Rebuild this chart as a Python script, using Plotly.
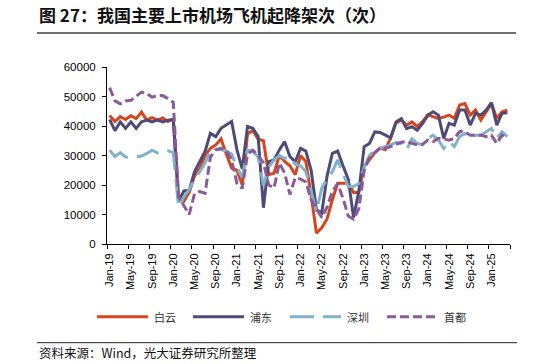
import plotly.graph_objects as go

# ---------------- data ----------------
months = []
mnames = ["Jan", "Feb", "Mar", "Apr", "May", "Jun", "Jul", "Aug", "Sep", "Oct", "Nov", "Dec"]
for yy in range(19, 26):
    for m in mnames:
        months.append(f"{m}-{yy}")
months = months[:76]  # Jan-19 .. Apr-25

baiyun = [43600, 41500, 43200, 42200, 43500, 42500, 44700, 42000, 42800, 42000, 42700, 41500,
          42300, 15500, 14500, 17500, 23000, 25700, 30000, 32400, 33600, 35600, 30500, 25700,
          25000, 20000, 37300, 38500, 35500, 35000, 23500, 24000, 30000, 28000, 26500, 23500,
          30000, 28000, 16500, 3700, 5500, 8500, 15000, 20600, 20600, 20600, 17500, 17500,
          26500, 28500, 31000, 32500, 32000, 36000, 41000, 42000, 40300, 41400, 39800, 41500,
          43700, 43100, 42600, 43000, 43700, 42600, 47100, 47600, 43700, 45400, 42000, 44800,
          47600, 42600, 44800, 45400]

pudong = [42200, 38400, 41400, 39200, 41400, 39200, 41400, 42000, 41400, 42000, 41400, 42000,
          42200, 14500, 18000, 18200, 24500, 28000, 31500, 37500, 36400, 39200, 40300, 41500,
          32000, 25500, 39800, 39200, 36500, 12300, 27900, 28500, 31900, 34700, 29600, 27900,
          32400, 31500, 25000, 11600, 10500, 23000, 30700, 31500, 26500, 22000, 9000, 18000,
          33000, 34100, 38000, 37800, 36900, 36000, 41400, 42500, 39100, 39800, 38600, 40800,
          43700, 44800, 43700, 35800, 40900, 40300, 45400, 45400, 40300, 44300, 43700, 45400,
          47900, 40300, 44300, 44500]

shenzhen = [31800, 29700, 31000, 29500, 29300, 29500, 29800, 30700, 31800, 30900, 31600, 31600,
            31000, 12500, 16000, 18500, 22000, 24500, 27500, 31500, 32000, 32000, 31500, 30500,
            26000, 22500, 31900, 31300, 29600, 19800, 26000, 28500, 30000, 29000, 29600, 27000,
            26500, 24500, 17500, 11000, 19000, 22000, 24500, 28500, 24000, 19500, 19500, 20500,
            26000, 30000, 32000, 32500, 33000, 33500, 34500, 34100, 31900, 35600, 34100, 33600,
            35800, 36900, 35200, 32400, 34700, 33000, 36400, 37500, 35800, 36900, 36900, 38100,
            39200, 35800, 38100, 36400]

shoudu = [53000, 48500, 47500, 48500, 48700, 50000, 51500, 51000, 49800, 50300, 50300, 49300,
          48000, 16000, 13000, 10000, 17000, 17800, 17200, 29500, 31900, 32400, 31800, 28500,
          20600, 18800, 30500, 31800, 30000, 27500, 20000, 19000, 27500, 24000, 16800, 22500,
          22000, 21000, 15000, 12000, 9000, 12500, 17800, 20500, 15500, 9500, 8400, 12000,
          25000, 29300, 31000, 32500, 32500, 33000, 33800, 34500, 34700, 34100, 33600, 33800,
          35200, 34700, 35800, 35600, 35200, 35800, 38100, 38100, 36900, 36900, 36900, 36400,
          36900, 34100, 36900, 35800]

series_names = ["白云", "浦东", "深圳", "首都"]
series_values = [baiyun, pudong, shenzhen, shoudu]
series_colors = ["#D5461F", "#4E4C77", "#80B2C9", "#8A5A9A"]
series_dash = ["solid", "solid", "24px,9px", "9px,4px"]

y_ticks = [0, 10000, 20000, 30000, 40000, 50000, 60000]
x_tick_idx = list(range(0, 76, 4))
x_tick_text = [months[i] for i in x_tick_idx]

title_text = "图 27：我国主要上市机场飞机起降架次（次）"
source_text = "资料来源：Wind，光大证券研究所整理"

# ---------------- layout geometry ----------------
W, H = 549, 364
ML, MR, MT, MB = 107, 39, 67, 120
PW = W - ML - MR
PH = H - MT - MB


def px_x(px):
    return (px - ML) / PW


def px_y(py):
    return (H - MB - py) / PH


CJK = "Noto Sans CJK SC"
LAT = "Liberation Sans, Arial, sans-serif"

fig = go.Figure()
xs = list(range(len(months)))
for name, vals, col, dash in zip(series_names, series_values, series_colors, series_dash):
    fig.add_trace(go.Scatter(
        x=xs, y=vals, name=name, mode="lines",
        line=dict(color=col, width=3, dash=dash),
        showlegend=False, hoverinfo="skip",
    ))

shapes = []
annotations = []

# title + rule
annotations.append(dict(text=title_text, xref="paper", yref="paper",
                        x=px_x(37), y=px_y(14), xanchor="left", yanchor="middle",
                        showarrow=False,
                        font=dict(family=CJK, size=17, color="#111111", weight="bold")))
shapes.append(dict(type="line", xref="paper", yref="paper",
                   x0=px_x(37), x1=px_x(516), y0=px_y(33), y1=px_y(33),
                   line=dict(color="#404040", width=1.5)))

# manual legend
leg_y = 316.7
leg_starts = [97, 193, 290, 387]
for name, col, dash, x0 in zip(series_names, series_colors, series_dash, leg_starts):
    shapes.append(dict(type="line", xref="paper", yref="paper",
                       x0=px_x(x0), x1=px_x(x0 + 51), y0=px_y(leg_y), y1=px_y(leg_y),
                       line=dict(color=col, width=3, dash=dash)))
    annotations.append(dict(text=name, xref="paper", yref="paper",
                            x=px_x(x0 + 55), y=px_y(leg_y), xanchor="left", yanchor="middle",
                            showarrow=False,
                            font=dict(family=CJK, size=11, color="#333333")))

# source rule + text
shapes.append(dict(type="line", xref="paper", yref="paper",
                   x0=px_x(37), x1=px_x(517), y0=px_y(342.7), y1=px_y(342.7),
                   line=dict(color="#222222", width=1)))
annotations.append(dict(text=source_text, xref="paper", yref="paper",
                        x=px_x(37), y=px_y(352.5), xanchor="left", yanchor="middle",
                        showarrow=False,
                        font=dict(family=CJK, size=12.5, color="#111111")))

fig.update_layout(
    width=W, height=H,
    margin=dict(l=ML, r=MR, t=MT, b=MB, pad=0),
    paper_bgcolor="white", plot_bgcolor="white",
    shapes=shapes, annotations=annotations,
    showlegend=False, hovermode=False,
)

fig.update_xaxes(
    range=[-0.5, 75.5], tickmode="array", tickvals=x_tick_idx, ticktext=x_tick_text,
    tickangle=-90, ticks="", showgrid=False, zeroline=False,
    showline=True, linecolor="#000000", linewidth=1,
    tickfont=dict(family=LAT, size=11, color="#000000"),
    ticklabelstandoff=4,
    minor=dict(tickmode="array", tickvals=[-0.5 + 4 * k for k in range(20)],
               ticks="outside", ticklen=4, tickwidth=1, tickcolor="#000000", showgrid=False),
)
fig.update_yaxes(
    range=[0, 60000], tickmode="array", tickvals=y_ticks, ticktext=[str(v) for v in y_ticks],
    ticks="outside", ticklen=4, tickwidth=1, tickcolor="#000000",
    showgrid=False, zeroline=False,
    showline=True, linecolor="#000000", linewidth=1,
    tickfont=dict(family=LAT, size=11.5, color="#000000"),
    ticklabelstandoff=4,
)

# remove the default page margin so the figure sits at the window's top-left corner
fig.write_html("out.html", config={"displayModeBar": False},
               post_script="document.body.style.margin='0';")
